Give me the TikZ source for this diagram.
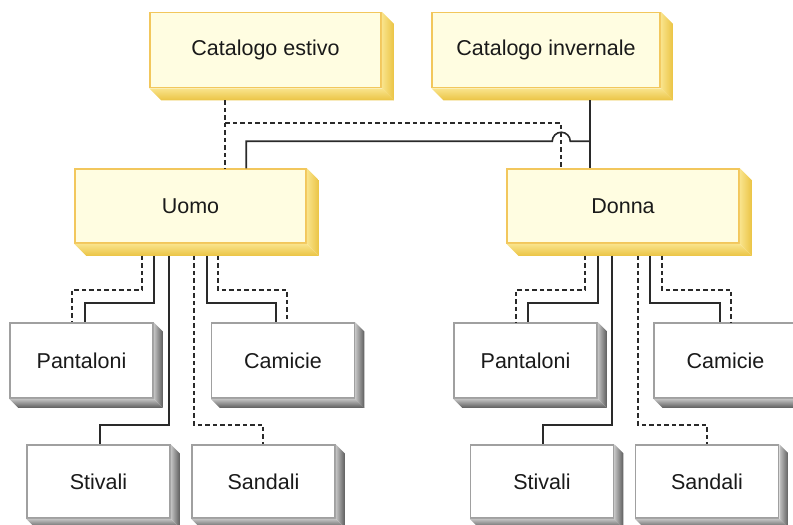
\documentclass[tikz,border=0pt]{standalone}
\usepackage{fontspec}
\setmainfont{Liberation Sans}
\usetikzlibrary{calc}

\definecolor{facey}{HTML}{FFFDE1}
\definecolor{edgey}{HTML}{F2C75C}
\definecolor{sidey}{HTML}{F9E48C}
\definecolor{darky}{HTML}{EBC445}
\definecolor{edgeg}{HTML}{A0A0A0}
\definecolor{sideg}{HTML}{C4C4C4}
\definecolor{darkg}{HTML}{5E5E5E}
\definecolor{wire}{HTML}{2A2A2A}
\definecolor{ink}{HTML}{1A1A1A}

% fianchi in rilievo di un riquadro: nodo, profondita, chiaro, scuro
\newcommand{\sidewall}[4]{%
  \shade[left color=#3, right color=#4] (#1.north east) -- ++(#2,#2) -- ($(#1.south east)+(#2,#2)$) -- (#1.south east) -- cycle;
  \shade[top color=#3, bottom color=#4] (#1.south west) -- (#1.south east) -- ($(#1.south east)+(#2,#2)$) -- ($(#1.south west)+(#2,#2)$) -- cycle;
}

\begin{document}
\begin{tikzpicture}[x=1pt, y=-1pt,
    font=\fontsize{21.5pt}{25pt}\selectfont, text=ink,
    catbox/.style={draw=edgey, fill=facey, line width=1.5pt, minimum width=231pt, minimum height=75pt, inner sep=0pt},
    itembox/.style={draw=edgeg, fill=white, line width=1.5pt, minimum width=143pt, minimum height=75pt, inner sep=0pt},
    link/.style={draw=wire, line width=1.6pt},
    dlink/.style={link, dash pattern=on 4.5pt off 3pt}]
    \useasboundingbox (0,0) rectangle (793,525);

    % cataloghi
    \node[catbox] (estivo) at (265.5,50) {Catalogo estivo};
    \node[catbox, minimum width=228pt] (invern) at (546,50) {Catalogo invernale};

    % reparti
    \node[catbox, minimum height=74pt] (uomo) at (190.5,206) {Uomo};
    \node[catbox, minimum width=232pt, minimum height=74pt] (donna) at (623,206) {Donna};

    % articoli uomo
    \node[itembox] (pantU) at (81.5,360.5) {Pantaloni};
    \node[itembox] (camU) at (283,360.5) {Camicie};
    \node[itembox, minimum height=73pt] (stivU) at (98.5,481.5) {Stivali};
    \node[itembox, minimum height=73pt] (sandU) at (263.5,481.5) {Sandali};

    % articoli donna
    \node[itembox] (pantD) at (525.5,360.5) {Pantaloni};
    \node[itembox] (camD) at (725.5,360.5) {Camicie};
    \node[itembox, minimum height=73pt] (stivD) at (542,481.5) {Stivali};
    \node[itembox, minimum height=73pt] (sandD) at (707,481.5) {Sandali};

    \foreach \n in {estivo, invern, uomo, donna}
      \sidewall{\n}{12}{sidey}{darky};
    \foreach \n in {pantU, camU, stivU, sandU, pantD, camD, stivD, sandD}
      \sidewall{\n}{9}{sideg}{darkg};

    % collegamenti cataloghi -> reparti
    \draw[dlink] ($(estivo.south west)+(76,12)$) -- ($(uomo.north west)+(151,0)$);
    \draw[dlink] ($(estivo.south west)+(76,35)$) -| ($(donna.north west)+(55,0)$);
    \draw[link] ($(invern.south west)+(159,12)$) -- ($(donna.north west)+(84,0)$);
    \draw[link] ($(uomo.north west)+(172,0)$) -- ++(0,-27)
      -- ($(donna.north west)+(46,-27)$) arc[start angle=180, end angle=360, radius=9]
      -- ($(donna.north west)+(84,-27)$);

    % collegamenti uomo -> articoli
    \draw[dlink] ($(uomo.south west)+(68,12)$) -- ++(0,34) -| ($(pantU.north west)+(63,0)$);
    \draw[link]  ($(uomo.south west)+(80,12)$) -- ++(0,47) -| ($(pantU.north west)+(76,0)$);
    \draw[link]  ($(uomo.south west)+(95,12)$) -- ++(0,169) -| ($(stivU.north west)+(74,0)$);
    \draw[dlink] ($(uomo.south west)+(120,12)$) -- ++(0,169) -| ($(sandU.north west)+(72,0)$);
    \draw[link]  ($(uomo.south west)+(133,12)$) -- ++(0,47) -| ($(camU.north west)+(65,0)$);
    \draw[dlink] ($(uomo.south west)+(144,12)$) -- ++(0,34) -| ($(camU.north west)+(76,0)$);

    % collegamenti donna -> articoli
    \draw[dlink] ($(donna.south west)+(79,12)$) -- ++(0,34) -| ($(pantD.north west)+(63,0)$);
    \draw[link]  ($(donna.south west)+(92,12)$) -- ++(0,47) -| ($(pantD.north west)+(75,0)$);
    \draw[link]  ($(donna.south west)+(106,12)$) -- ++(0,169) -| ($(stivD.north west)+(73,0)$);
    \draw[dlink] ($(donna.south west)+(132,12)$) -- ++(0,169) -| ($(sandD.north west)+(72,0)$);
    \draw[link]  ($(donna.south west)+(144,12)$) -- ++(0,47) -| ($(camD.north west)+(67,0)$);
    \draw[dlink] ($(donna.south west)+(156,12)$) -- ++(0,34) -| ($(camD.north west)+(78,0)$);
\end{tikzpicture}
\end{document}
